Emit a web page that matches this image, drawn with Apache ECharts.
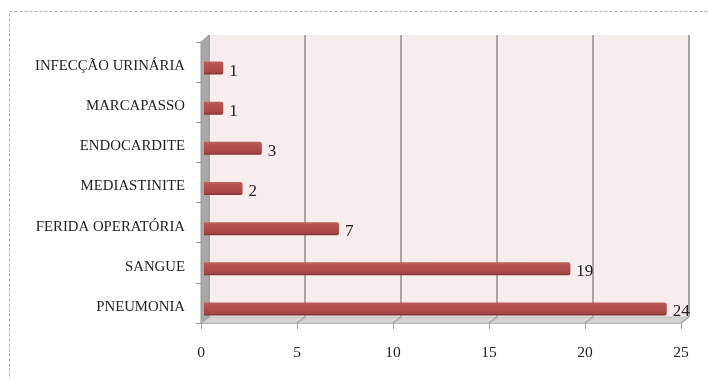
<!DOCTYPE html>
<html><head><meta charset="utf-8">
<script src="https://cdn.jsdelivr.net/npm/echarts@6/dist/echarts.min.js"></script>
<style>html,body{margin:0;padding:0;background:#fff}#c{width:709px;height:379px}</style>
</head><body><div id="c"></div>
<script>
const categories = ['PNEUMONIA','SANGUE','FERIDA OPERATÓRIA','MEDIASTINITE','ENDOCARDITE','MARCAPASSO','INFECÇÃO URINÁRIA'];
const values = [24,19,7,2,3,1,1];
const xMin = 0, xMax = 25, xStep = 5;

const chart = echarts.init(document.getElementById('c'), null, {renderer:'canvas'});
const serif = '"Liberation Serif", "DejaVu Serif", serif';
const option = {
  animation:false,
  backgroundColor:'#fff',
  grid:[
    {left:209, right:20, top:35, bottom:62, show:true, backgroundColor:'#F7EDED', borderWidth:0},
    {left:201, right:28, top:42, bottom:56},
    {left:204, right:23, top:48, bottom:50},
    {left:201, right:28, top:46, bottom:52}
  ],
  xAxis:[
    {gridIndex:0, type:'value', min:xMin, max:xMax, interval:xStep,
     axisLabel:{show:false}, axisTick:{show:false}, axisLine:{show:false},
     splitLine:{show:true, lineStyle:{color:'#A9A5A5', width:2}}},
    {gridIndex:1, type:'value', min:xMin, max:xMax, interval:xStep,
     axisLabel:{color:'#222', fontFamily:serif, fontSize:15.5, margin:22},
     axisTick:{show:true, length:6, lineStyle:{color:'#A0A0A0'}},
     axisLine:{show:true, lineStyle:{color:'#B8B8B8', width:1}},
     splitLine:{show:false}},
    {gridIndex:2, type:'value', min:xMin, max:xMax, show:false, splitLine:{show:false}},
    {gridIndex:3, type:'value', min:xMin, max:xMax, show:false, splitLine:{show:false}}
  ],
  yAxis:[
    {gridIndex:0, type:'category', data:categories, show:false},
    {gridIndex:1, type:'category', data:categories,
     axisLabel:{show:false},
     axisTick:{show:true, length:5, lineStyle:{color:'#909090'}},
     axisLine:{show:true, lineStyle:{color:'#A0A0A0', width:1}}},
    {gridIndex:2, type:'category', data:categories, show:false},
    {gridIndex:3, type:'category', data:categories,
     axisLabel:{color:'#222', fontFamily:serif, fontSize:14.8, margin:16},
     axisTick:{show:false}, axisLine:{show:false}}
  ],
  series:[{
    type:'bar', xAxisIndex:2, yAxisIndex:2, data:values, barWidth:13, z:5,
    itemStyle:{
      color:new echarts.graphic.LinearGradient(0,0,0,1,[
        {offset:0,color:'#C0625E'},{offset:0.25,color:'#B3524F'},
        {offset:0.8,color:'#A94845'},{offset:1,color:'#7E302E'}]),
      borderRadius:[0,2,2,0]
    },
    label:{show:true, position:'right', distance:6, color:'#222', fontFamily:serif, fontSize:17, offset:[0,3]}
  }]
};
chart.setOption(option);

// 3D-like walls derived from the grids' own coordinate systems
const f0 = chart.getModel().getComponent('grid',1).coordinateSystem.getRect();
const b0 = chart.getModel().getComponent('grid',0).coordinateSystem.getRect();
const graphics = [
  {type:'rect', shape:{x:9.5,y:11.5,width:760,height:420}, style:{fill:null, stroke:'#B0B0B0', lineWidth:1, lineDash:[3,2]}, z:-10},
  {type:'polygon', shape:{points:[[f0.x,f0.y],[b0.x,b0.y],[b0.x,b0.y+b0.height],[f0.x,f0.y+f0.height]]},
   style:{fill:'#A8A8A8', stroke:'#9A9A9A'}, z:1},
  {type:'polygon', shape:{points:[[f0.x,f0.y+f0.height],[b0.x,b0.y+b0.height],[b0.x+b0.width,b0.y+b0.height],[f0.x+f0.width,f0.y+f0.height]]},
   style:{fill:'#D3D3D3', stroke:'#BEBEBE'}, z:1}
];
for (let v = xMin; v <= xMax; v += xStep) {
  const pb = chart.convertToPixel({xAxisIndex:0}, v);
  const pf = chart.convertToPixel({xAxisIndex:1}, v);
  graphics.push({type:'line', shape:{x1:pb, y1:b0.y+b0.height, x2:pf, y2:f0.y+f0.height}, style:{stroke:'#A9A5A5', lineWidth:1.5}, z:2});
}
chart.setOption({graphic:graphics});
</script></body></html>
